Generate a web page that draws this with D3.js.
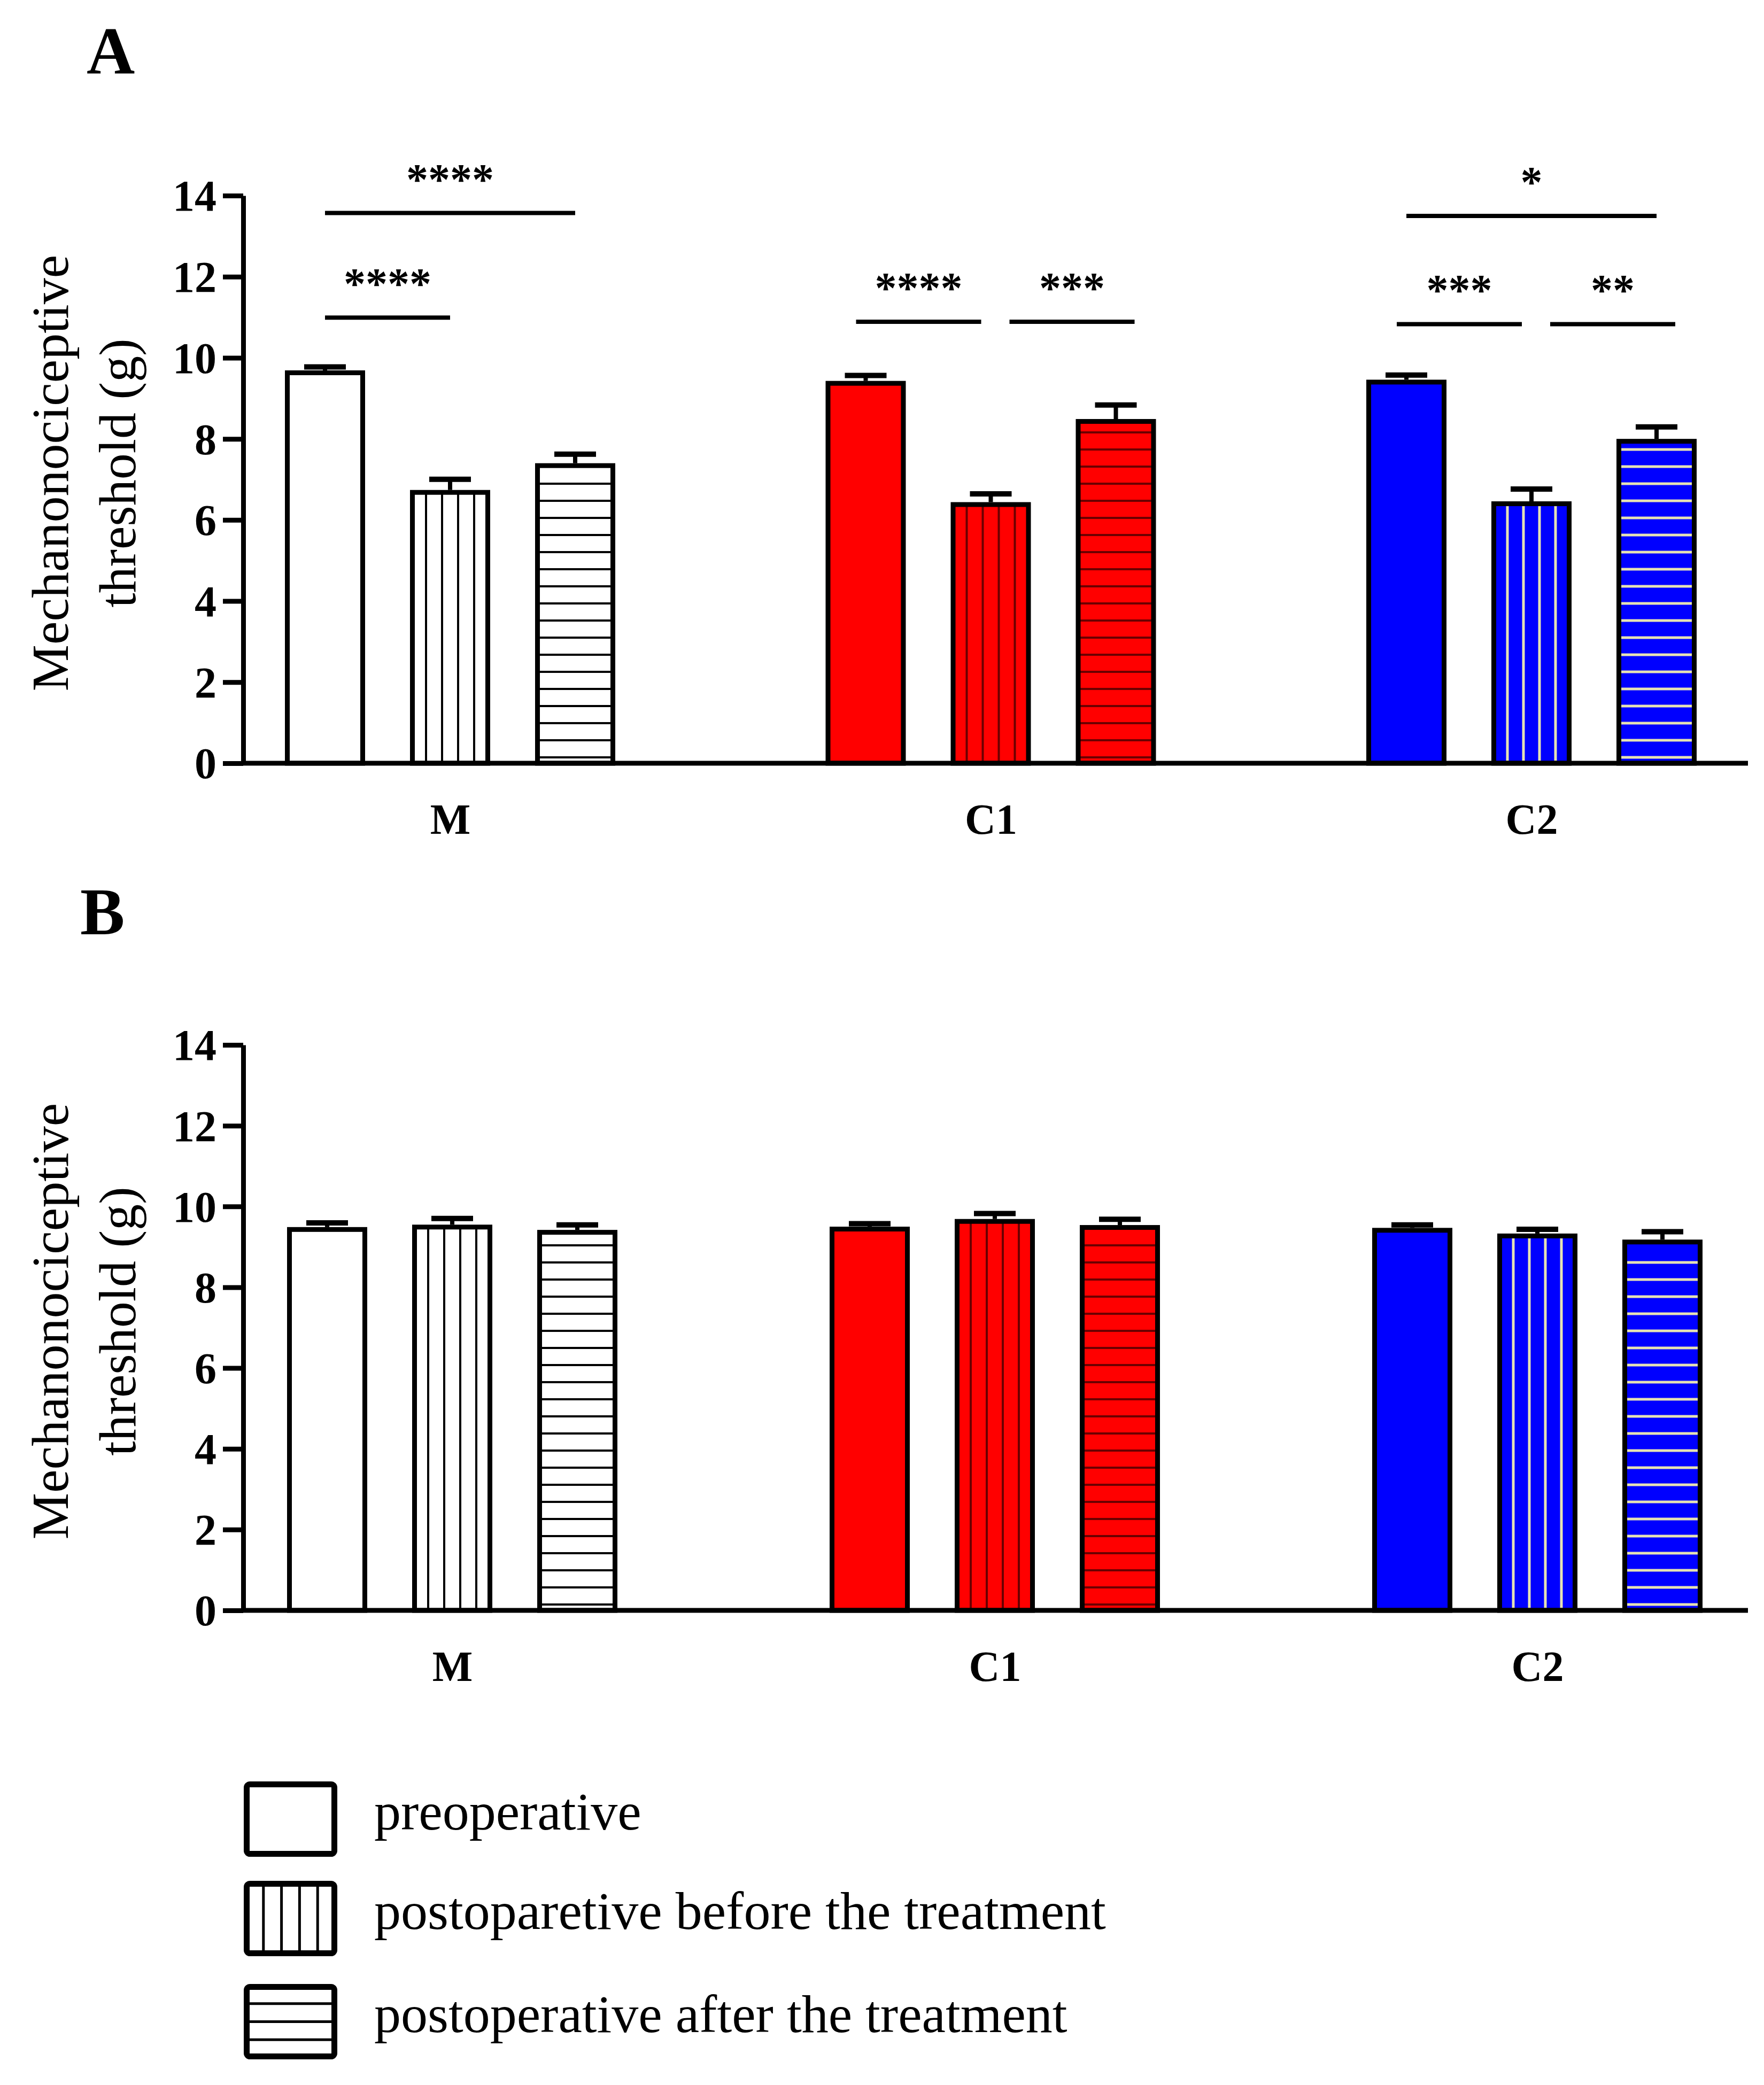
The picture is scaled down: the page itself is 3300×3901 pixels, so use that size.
<!DOCTYPE html>
<html>
<head>
<meta charset="utf-8">
<script src="https://cdn.jsdelivr.net/npm/d3@7"></script>
<style>
  body { margin: 0; background: #fff; }
  text { font-family: "Liberation Serif", "Times New Roman", serif; fill: #000; }
</style>
</head>
<body>
<div id="chart"></div>
<script>
// data
var groups = ["M", "C1", "C2"];
var conditions = ["preoperative", "postoparetive before the treatment", "postoperative after the treatment"];
var yTicks = [0, 2, 4, 6, 8, 10, 12, 14];

// panel A means / SEM, one row per group, columns = conditions
var meansA = [[9.69, 6.74, 7.40], [9.43, 6.44, 8.49], [9.46, 6.46, 8.00]];
var semA   = [[0.15, 0.33, 0.29], [0.20, 0.27, 0.41], [0.18, 0.37, 0.36]];

// panel B
var meansB = [[9.49, 9.55, 9.42], [9.50, 9.69, 9.54], [9.47, 9.33, 9.18]];
var semB   = [[0.17, 0.22, 0.19], [0.14, 0.20, 0.21], [0.14, 0.17, 0.26]];

// significance bars in panel A: group, from bar, to bar, height (g), label
var sigGroup = ["M", "M", "C1", "C1", "C2", "C2", "C2"];
var sigFrom  = [0, 0, 0, 1, 0, 1, 0];
var sigTo    = [1, 2, 1, 2, 1, 2, 2];
var sigLevel = [10.99, 13.57, 10.89, 10.89, 10.83, 10.83, 13.50];
var sigLabel = ["****", "****", "****", "***", "***", "**", "*"];

var groupFill = { M: "#ffffff", C1: "#ff0000", C2: "#0000ff" };
var stripeColor = { M: "#000000", C1: "#6b0000", C2: "#e6e2b4" };

var svgWidth = 3300;
var svgHeight = 3901;

var svg = d3.select("#chart")
  .append("svg")
  .attr("width", svgWidth)
  .attr("height", svgHeight);

svg.append("rect")
  .attr("width", svgWidth)
  .attr("height", svgHeight)
  .attr("fill", "#fff");

var axisX = 455;
var axisRight = 3270;

function drawPanel(letter, top, bottom, centers, means, sems, letterX, letterY) {
  var g = svg.append("g");

  var y = d3.scaleLinear().domain([0, 14]).range([bottom, top]);
  var xGroup = d3.scalePoint().domain(groups).range(centers);
  var xInner = d3.scaleBand().domain([0, 1, 2]).range([-309, 309]).paddingInner(0.359);
  var bw = xInner.bandwidth();

  // panel letter
  g.append("text")
    .attr("x", letterX)
    .attr("y", letterY)
    .attr("font-size", 125)
    .attr("font-weight", "bold")
    .text(letter);

  // y axis title
  var midY = (top + bottom) / 2 - 12;
  g.append("text")
    .attr("transform", `translate(127, ${midY}) rotate(-90)`)
    .attr("text-anchor", "middle")
    .attr("font-size", 98)
    .text("Mechanonociceptive");
  g.append("text")
    .attr("transform", `translate(253, ${midY}) rotate(-90)`)
    .attr("text-anchor", "middle")
    .attr("font-size", 98)
    .text("threshold (g)");

  var rows = [];
  groups.forEach(function(grp, gi) {
    conditions.forEach(function(c, ci) {
      rows.push({ group: grp, cond: ci, value: means[gi][ci], sem: sems[gi][ci] });
    });
  });

  var bars = g.selectAll(".bar")
    .data(rows)
    .enter()
    .append("g")
    .attr("class", "bar");

  bars.each(function(d) {
    var el = d3.select(this);
    var x0 = xGroup(d.group) + xInner(d.cond);
    var yTop = y(d.value);
    var yBase = y(0);

    // error bar (upper only)
    var cx = x0 + bw / 2;
    el.append("line")
      .attr("x1", cx).attr("x2", cx)
      .attr("y1", yTop).attr("y2", y(d.value + d.sem) + 5)
      .attr("stroke", "#000").attr("stroke-width", 8);
    el.append("line")
      .attr("x1", cx - 39).attr("x2", cx + 39)
      .attr("y1", y(d.value + d.sem) + 5).attr("y2", y(d.value + d.sem) + 5)
      .attr("stroke", "#000").attr("stroke-width", 10);

    el.append("rect")
      .attr("x", x0 + 4.5)
      .attr("y", yTop + 4.5)
      .attr("width", bw - 9)
      .attr("height", yBase - yTop - 4.5)
      .attr("fill", groupFill[d.group]);

    var sc = stripeColor[d.group];
    if (d.cond === 1) {
      el.selectAll(".vs")
        .data(d3.range(1, 5))
        .enter()
        .append("line")
        .attr("x1", k => x0 + k * bw / 5)
        .attr("x2", k => x0 + k * bw / 5)
        .attr("y1", yTop + 8)
        .attr("y2", yBase)
        .attr("stroke", sc)
        .attr("stroke-width", d.group === "C2" ? 5 : 4);
    }
    if (d.cond === 2) {
      var ys = [];
      for (var yy = yBase - 11; yy > yTop + 14; yy -= 32) ys.push(yy);
      el.selectAll(".hs")
        .data(ys)
        .enter()
        .append("line")
        .attr("x1", x0 + 8)
        .attr("x2", x0 + bw - 8)
        .attr("y1", v => v)
        .attr("y2", v => v)
        .attr("stroke", sc)
        .attr("stroke-width", d.group === "C2" ? 5 : 4);
    }

    el.append("rect")
      .attr("x", x0 + 4.5)
      .attr("y", yTop + 4.5)
      .attr("width", bw - 9)
      .attr("height", yBase - yTop - 4.5)
      .attr("fill", "none")
      .attr("stroke", "#000")
      .attr("stroke-width", 9);
  });

  // y axis
  var leftAxis = d3.axisLeft(y)
    .tickValues(yTicks)
    .tickSize(38)
    .tickSizeOuter(0)
    .tickPadding(12);

  var ya = g.append("g")
    .attr("transform", `translate(${axisX}, 0)`)
    .call(leftAxis);
  ya.select(".domain").attr("stroke", "#000").attr("stroke-width", 9);
  ya.selectAll(".tick line").attr("stroke", "#000").attr("stroke-width", 9);
  ya.selectAll(".tick text")
    .attr("font-family", "Liberation Serif, serif")
    .attr("font-weight", "bold")
    .attr("font-size", 82)
    .attr("dy", "0.34em")
    .attr("fill", "#000");

  // x axis line
  g.append("line")
    .attr("x1", axisX - 4)
    .attr("x2", axisRight)
    .attr("y1", y(0))
    .attr("y2", y(0))
    .attr("stroke", "#000")
    .attr("stroke-width", 9);

  var bottomAxis = d3.axisBottom(xGroup).tickSize(0).tickPadding(0);
  var xa = g.append("g")
    .attr("transform", `translate(0, ${y(0) + 132})`)
    .call(bottomAxis);
  xa.select(".domain").remove();
  xa.selectAll(".tick text")
    .attr("font-family", "Liberation Serif, serif")
    .attr("font-weight", "bold")
    .attr("font-size", 80)
    .attr("dy", 0)
    .attr("fill", "#000");

  return { y: y, xGroup: xGroup, xInner: xInner };
}

var A = drawPanel("A", 366, 1428, [842, 2865], meansA, semA, 162, 137);
var B = drawPanel("B", 1955, 3013, [846, 2876], meansB, semB, 150, 1748);

// significance annotations on panel A
var sig = sigLabel.map(function(lab, i) {
  return { group: sigGroup[i], from: sigFrom[i], to: sigTo[i], level: sigLevel[i], label: lab };
});

function barCenter(s, idx) {
  return A.xGroup(s.group) + A.xInner(idx) + A.xInner.bandwidth() / 2;
}

sig.forEach(function(s) {
  // adjacent pairs that share a level with a neighbour are nudged apart
  var crowded = sig.some(o => o !== s && o.group === s.group && o.level === s.level);
  var shift = 0;
  if (crowded) shift = s.from === 0 ? -18 : 35;
  var x1 = barCenter(s, s.from) + shift;
  var x2 = barCenter(s, s.to) + shift;
  var yy = A.y(s.level);

  svg.append("line")
    .attr("x1", x1).attr("x2", x2)
    .attr("y1", yy).attr("y2", yy)
    .attr("stroke", "#000")
    .attr("stroke-width", 8);

  svg.append("text")
    .attr("x", (x1 + x2) / 2)
    .attr("y", yy - 36)
    .attr("text-anchor", "middle")
    .attr("font-size", 82)
    .attr("font-weight", "bold")
    .text(s.label);
});

// legend
var legendTop = [3333, 3519, 3712];
var legend = svg.append("g");

conditions.forEach(function(c, i) {
  var bx = 456, by = legendTop[i], bwid = 175, bh = 141;
  var item = legend.append("g");
  item.append("rect")
    .attr("x", bx + 5).attr("y", by + 5)
    .attr("width", bwid - 10).attr("height", bh - 10)
    .attr("fill", "#fff");
  if (i === 1) {
    item.selectAll("line")
      .data(d3.range(1, 5))
      .enter()
      .append("line")
      .attr("x1", k => bx + 3 + k * (bwid - 6) / 5)
      .attr("x2", k => bx + 3 + k * (bwid - 6) / 5)
      .attr("y1", by)
      .attr("y2", by + bh)
      .attr("stroke", "#000")
      .attr("stroke-width", 5);
  }
  if (i === 2) {
    item.selectAll("line")
      .data([1, 2, 3])
      .enter()
      .append("line")
      .attr("x1", bx)
      .attr("x2", bx + bwid)
      .attr("y1", k => by + 3 + k * (bh - 6) / 4)
      .attr("y2", k => by + 3 + k * (bh - 6) / 4)
      .attr("stroke", "#000")
      .attr("stroke-width", 5);
  }
  item.append("rect")
    .attr("x", bx + 5.5).attr("y", by + 5.5)
    .attr("width", bwid - 11).attr("height", bh - 11)
    .attr("fill", "none")
    .attr("stroke", "#000")
    .attr("stroke-width", 11)
    .attr("rx", 6);

  item.append("text")
    .attr("x", 700)
    .attr("y", by + bh / 2 + 19)
    .attr("font-size", 100)
    .text(c);
});
</script>
</body>
</html>
